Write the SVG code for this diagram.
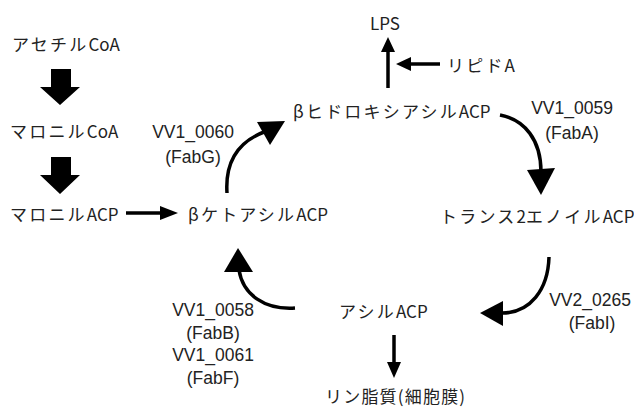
<svg xmlns="http://www.w3.org/2000/svg" width="634" height="408" viewBox="0 0 634 408">
<style>
text{font-family:"Noto Sans CJK JP","Noto Sans",sans-serif;font-size:17px;fill:#222;dominant-baseline:central}
.k{letter-spacing:2.2px}
.m{text-anchor:middle}
.lb{font-family:"Liberation Sans",Arial,sans-serif;font-size:17.5px;text-anchor:middle}
.ln{fill:none;stroke:#000;stroke-width:3.5}
.hd{fill:#000}
</style>
<rect width="634" height="408" fill="#fff"/>
<g id="acetylcoa"><text x="12" y="43"><tspan class="k">アセチル</tspan>CoA</text></g>
<g id="malonylcoa"><text x="10" y="130"><tspan class="k">マロニル</tspan>CoA</text></g>
<g id="malonylacp"><text x="10" y="213"><tspan class="k">マロニル</tspan>ACP</text></g>
<g id="ketoacyl"><text x="188" y="213"><tspan class="k">βケトアシル</tspan>ACP</text></g>
<g id="hydroxyacyl"><text x="293" y="110"><tspan class="k">βヒドロキシアシル</tspan>ACP</text></g>
<g id="lps"><text class="m" x="385" y="22">LPS</text></g>
<g id="lipidA"><text x="447" y="64"><tspan class="k">リピド</tspan>A</text></g>
<g id="enoyl"><text x="440" y="215"><tspan class="k">トランス</tspan>2<tspan class="k">エノイル</tspan>ACP</text></g>
<g id="acyl"><text x="339" y="310"><tspan class="k">アシル</tspan>ACP</text></g>
<g id="phospholipid"><text x="325" y="395" letter-spacing="1.2">リン脂質(細胞膜)</text></g>
<g id="labels">
<text class="lb" x="193" y="132">VV1_0060</text>
<text class="lb" x="193" y="157">(FabG)</text>
<text class="lb" x="572" y="108">VV1_0059</text>
<text class="lb" x="572" y="133">(FabA)</text>
<text class="lb" x="590" y="300">VV2_0265</text>
<text class="lb" x="592" y="323">(FabI)</text>
<text class="lb" x="213" y="310">VV1_0058</text>
<text class="lb" x="213" y="333">(FabB)</text>
<text class="lb" x="213" y="355">VV1_0061</text>
<text class="lb" x="213" y="378">(FabF)</text>
</g>
<g id="connectors">
<polygon class="hd" points="51,69 71,69 71,87 80,87 60,105 40,87 51,87"/>
<polygon class="hd" points="51,157 71,157 71,175 80,175 60,194 40,175 51,175"/>
<line class="ln" x1="126" y1="213" x2="162" y2="213" stroke-width="4"/>
<polygon class="hd" points="178,213 160,206 160,220"/>
<path class="ln" d="M227,193 C225,162 238,142 264,132"/>
<polygon class="hd" points="257,122 285,121 270,145"/>
<line class="ln" x1="388" y1="88" x2="388" y2="50"/>
<polygon class="hd" points="388,37 381,52 395,52"/>
<line class="ln" x1="440" y1="64" x2="408" y2="64"/>
<polygon class="hd" points="396,64 411,57 411,71"/>
<path class="ln" d="M500,115 C525,120 541,140 541,172"/>
<polygon class="hd" points="527,170 555,168 541,195"/>
<path class="ln" d="M549,257 C548,290 530,313 502,313"/>
<polygon class="hd" points="480,313 503,301 503,326"/>
<path class="ln" d="M295,308 C265,310 243,295 239,270"/>
<polygon class="hd" points="238,248 224,272 253,272"/>
<line class="ln" x1="394" y1="335" x2="394" y2="365"/>
<polygon class="hd" points="394,378 387,362 401,362"/>
</g>
</svg>
